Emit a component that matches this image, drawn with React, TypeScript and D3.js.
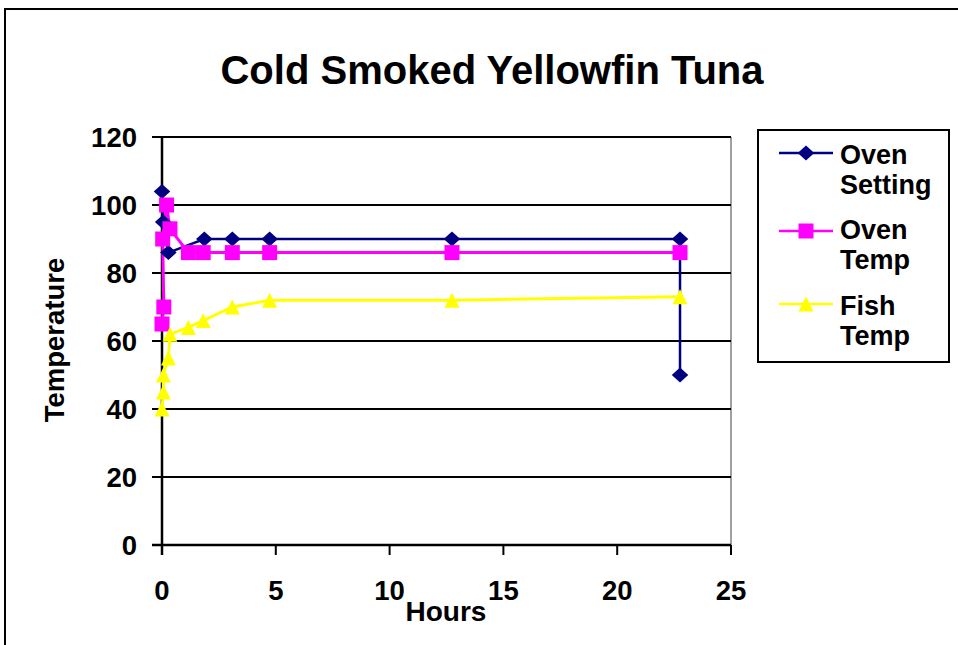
import React from "react";
import * as d3 from "d3";

const title = "Cold Smoked Yellowfin Tuna";
const xTicks = [0, 5, 10, 15, 20, 25];
const yTicks = [0, 20, 40, 60, 80, 100, 120];

const ovenSettingHours = [0, 0.05, 0.28, 1.86, 3.09, 4.73, 12.74, 22.76, 22.76];
const ovenSettingValues = [104, 95, 86, 90, 90, 90, 90, 90, 50];

const ovenTempHours = [0, 0.08, 0.03, 0.2, 0.35, 1.16, 1.81, 3.09, 4.73, 12.74, 22.76];
const ovenTempValues = [65, 70, 90, 100, 93, 86, 86, 86, 86, 86, 86];

const fishTempHours = [0, 0.06, 0.06, 0.28, 0.35, 1.16, 1.81, 3.09, 4.73, 12.74, 22.76];
const fishTempValues = [40, 45, 50, 55, 62, 64, 66, 70, 72, 72, 73];

const seriesNames = [["Oven", "Setting"], ["Oven", "Temp"], ["Fish", "Temp"]];
const seriesColors = ["#000080", "#FF00FF", "#FFFF00"];
const seriesMarkers = ["diamond", "square", "triangle"];

const W = 958;
const H = 645;
const FONT = "'Liberation Sans', Arial, sans-serif";

function markerPath(kind: string, cx: number, cy: number, r: number) {
  const p = d3.path();
  if (kind === "diamond") {
    const rx = r * 1.1;
    p.moveTo(cx, cy - r);
    p.lineTo(cx + rx, cy);
    p.lineTo(cx, cy + r);
    p.lineTo(cx - rx, cy);
    p.closePath();
  } else if (kind === "square") {
    p.rect(cx - r, cy - r, 2 * r, 2 * r);
  } else {
    p.moveTo(cx, cy - r);
    p.lineTo(cx + r, cy + r);
    p.lineTo(cx - r, cy + r);
    p.closePath();
  }
  return p.toString();
}

export default function App() {
  const x = d3.scaleLinear().domain([0, 25]).range([162, 731]);
  const y = d3.scaleLinear().domain([0, 120]).range([545, 137]);

  const series = [
    { hours: ovenSettingHours, values: ovenSettingValues },
    { hours: ovenTempHours, values: ovenTempValues },
    { hours: fishTempHours, values: fishTempValues },
  ];

  const line = d3
    .line<[number, number]>()
    .x((d) => x(d[0]))
    .y((d) => y(d[1]));

  const legendLineY = [153, 231, 304];
  const legendTextY = [164, 239, 315];

  return (
    <svg
      width={W}
      height={H}
      style={{ position: "absolute", left: 0, top: 0, background: "#fff" }}
      fontFamily={FONT}
    >
      <rect x={0} y={0} width={W} height={H} fill="#fff" />
      <rect x={5} y={9} width={1000} height={700} fill="none" stroke="#000" strokeWidth={2} />

      <text x={492} y={84} textAnchor="middle" fontSize={40} fontWeight="bold">
        {title}
      </text>

      {/* plot right border */}
      <line x1={731} x2={731} y1={137} y2={545} stroke="#808080" strokeWidth={1.5} />

      {/* gridlines */}
      {yTicks.map((t) => (
        <line key={"g" + t} x1={162} x2={731} y1={y(t)} y2={y(t)} stroke="#000" strokeWidth={2} />
      ))}
      {/* y ticks */}
      {yTicks.map((t) => (
        <line key={"yt" + t} x1={152} x2={162} y1={y(t)} y2={y(t)} stroke="#000" strokeWidth={2} />
      ))}
      {yTicks.map((t) => (
        <text key={"yl" + t} x={137} y={y(t) + 10} textAnchor="end" fontSize={27.5} fontWeight="bold">
          {t}
        </text>
      ))}
      {/* x ticks */}
      {xTicks.map((t) => (
        <line key={"xt" + t} x1={x(t)} x2={x(t)} y1={545} y2={555} stroke="#000" strokeWidth={2} />
      ))}
      {xTicks.map((t) => (
        <text key={"xl" + t} x={x(t)} y={600} textAnchor="middle" fontSize={27.5} fontWeight="bold">
          {t}
        </text>
      ))}
      <line x1={162} x2={162} y1={137} y2={555} stroke="#000" strokeWidth={2.5} />
      <line x1={152} x2={731} y1={545} y2={545} stroke="#000" strokeWidth={2.5} />

      <text x={446} y={621} textAnchor="middle" fontSize={28} fontWeight="bold">
        Hours
      </text>
      <text
        transform={`translate(64,340) rotate(-90)`}
        textAnchor="middle"
        fontSize={27.5}
        fontWeight="bold"
      >
        Temperature
      </text>

      {/* series lines */}
      {series.map((s, i) => (
        <path
          key={"l" + i}
          d={line(s.hours.map((h, j) => [h, s.values[j]] as [number, number])) || ""}
          fill="none"
          stroke={seriesColors[i]}
          strokeWidth={i === 0 ? 2.5 : 3}
        />
      ))}
      {/* markers */}
      {series.map((s, i) =>
        s.hours.map((h, j) => (
          <path
            key={"m" + i + "-" + j}
            d={markerPath(seriesMarkers[i], x(h), y(s.values[j]), 7.5)}
            fill={seriesColors[i]}
          />
        ))
      )}

      {/* legend */}
      <rect x={758} y={130} width={191} height={232} fill="#fff" stroke="#000" strokeWidth={2} />
      {seriesNames.map((nm, i) => (
        <g key={"lg" + i}>
          <line x1={779} x2={833} y1={legendLineY[i]} y2={legendLineY[i]} stroke={seriesColors[i]} strokeWidth={2.5} />
          <path d={markerPath(seriesMarkers[i], 806, legendLineY[i], 7.5)} fill={seriesColors[i]} />
          <text x={840} y={legendTextY[i]} fontSize={27} fontWeight="bold">
            {nm[0]}
          </text>
          <text x={840} y={legendTextY[i] + 30} fontSize={27} fontWeight="bold">
            {nm[1]}
          </text>
        </g>
      ))}
    </svg>
  );
}
